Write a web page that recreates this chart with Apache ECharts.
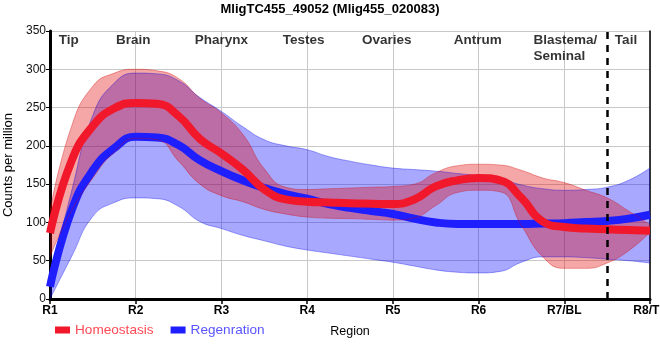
<!DOCTYPE html>
<html>
<head>
<meta charset="utf-8">
<script src="https://cdn.jsdelivr.net/npm/echarts@6/dist/echarts.min.js"></script>
<style>html,body{margin:0;padding:0;background:#fff}#c{width:660px;height:360px}</style>
</head>
<body>
<div id="c"></div>
<script>
// ---- data ----
const xPos = [1,1.25,1.5,1.75,2,2.25,2.5,2.75,3,3.25,3.5,3.75,4,4.25,4.5,4.75,5,5.25,5.5,5.75,6,6.25,6.5,6.75,7,7.25,7.5,7.75,8];
const tickLabels = ['R1','R2','R3','R4','R5','R6','R7/BL','R8/TL'];
const homeoMean  = [86,180,226,249,256,255,239,209,190,169,143,130,127,126,125,124.5,124,130,147,155,158,155,132,101,94,92,91,90,89];
const homeoLow   = [55,115,158,192,210,208,180,150,135,127,117,111,107,105.5,105,104,103,106,122,139,142,140,96,55,40,40,47,63,87];
const homeoHigh  = [115,225,278,295,300,298,288,262,243,215,170,146,143,144,145,146,147,150,165,174,176,175,168,158,152,142,132,115,97];
const regenMean  = [16,115,168,197,212,211,201,181,167,155,145,137,131,124,119,115,111,105,100,98,98,98,98,98.5,99,100.5,102,105,110];
const regenLow   = [0,55,108,126,132,131,121,101,92,83,76,69,64,60,56,52,48,43,38,35,34,36,48,55,55,54,52,50,47];
const regenHigh  = [25,140,240,282,295,294,285,263,245,225,208,200,195,186,180,175,171,169,167,164,161,157,149,144,142,143,146,155,171];
const regionNames = ['Tip','Brain','Pharynx','Testes','Ovaries','Antrum','Blastema/\nSeminal','Tail'];
const regionX     = [1.22,1.97,3.0,3.96,4.93,5.99,6.64,7.72];
const dashedX = [7.5];
const seriesNames = ['Homeostasis','Regenration'];

const FONT = 'Liberation Sans, Arial, sans-serif';
const cats = xPos.map(String);
const diffs = (lo, hi) => hi.map((h,i)=> h - lo[i]);
const isTick = (i) => (xPos[i] % 1) === 0;

function band(stackId, lo, hi, fill, edge) {
  return [
    { type:'line', stack:stackId, data:lo.slice(), smooth:true, symbol:'none', silent:true,
      lineStyle:{ width:1, color:edge } },
    { type:'line', stack:stackId, data:diffs(lo,hi), smooth:true, symbol:'none', silent:true,
      lineStyle:{ width:1, color:edge }, areaStyle:{ color:fill, opacity:1 } }
  ];
}

const regionData = regionNames.map((n,i)=>{
  const item = { name:n, value:[regionX[i], 350] };
  if (n.indexOf('\n') >= 0) item.label = { align:'left' };
  return item;
});

const chart = echarts.init(document.getElementById('c'), null, {renderer:'canvas'});
chart.setOption({
  animation:false,
  backgroundColor:'#fff',
  title:{ text:'MligTC455_49052 (Mlig455_020083)', left:'center', top:3, padding:0,
    textStyle:{ fontFamily:FONT, fontSize:13, fontWeight:'bold', color:'#000' } },
  grid:{ left:50, right:10, top:31, bottom:61, containLabel:false, outerBoundsMode:'none' },
  legend:{
    left:55, top:323, padding:0, itemWidth:15, itemHeight:7, itemGap:17, icon:'rect',
    data:[
      { name:seriesNames[0], textStyle:{ color:'#ff4a55' } },
      { name:seriesNames[1], textStyle:{ color:'#5a55ff' } }
    ],
    textStyle:{ fontFamily:FONT, fontSize:13.6 }
  },
  xAxis:[{
    type:'category', data:cats, boundaryGap:false,
    name:'Region', nameLocation:'middle', nameGap:26,
    nameTextStyle:{ fontFamily:FONT, fontSize:12.5, color:'#000' },
    axisLine:{ show:true, onZero:false, lineStyle:{ color:'#000', width:3 } },
    axisTick:{ show:true, length:5, interval:(i)=>isTick(i), lineStyle:{ color:'#000', width:1.5 } },
    axisLabel:{ fontFamily:FONT, fontSize:12, fontWeight:'bold', color:'#000', margin:6,
      interval:(i)=>isTick(i), formatter:(v)=> tickLabels[Math.round(Number(v))-1] || '' },
    splitLine:{ show:true, interval:(i)=>isTick(i), lineStyle:{ color:'#c8c8c8', width:1 } }
  },{
    type:'value', min:1, max:8, position:'top',
    axisLine:{ show:true, lineStyle:{ color:'#000', width:1 } },
    axisTick:{ show:false }, axisLabel:{ show:false }, splitLine:{ show:false }
  }],
  yAxis:[{
    type:'value', min:0, max:350, interval:50,
    name:'Counts per million', nameLocation:'middle', nameGap:35,
    nameTextStyle:{ fontFamily:FONT, fontSize:13, color:'#000' },
    axisLine:{ show:true, onZero:false, lineStyle:{ color:'#000', width:3 } },
    axisTick:{ show:true, length:4, lineStyle:{ color:'#000', width:1 } },
    axisLabel:{ fontFamily:FONT, fontSize:12, color:'#111', margin:4 },
    splitLine:{ show:true, lineStyle:{ color:'#c8c8c8', width:1 } }
  },{
    type:'value', min:0, max:350, position:'right',
    axisLine:{ show:true, lineStyle:{ color:'#000', width:1.5 } },
    axisTick:{ show:false }, axisLabel:{ show:false }, splitLine:{ show:false }
  }],
  series:[
    ...band('regen', regenLow, regenHigh, 'rgba(0,0,255,0.34)', 'rgba(0,0,230,0.35)'),
    { name:seriesNames[1], type:'line', data:regenMean.slice(), smooth:true, symbol:'none',
      color:'#1e1eff', lineStyle:{ width:8, color:'#1e1eff' } },
    ...band('homeo', homeoLow, homeoHigh, 'rgba(225,0,0,0.35)', 'rgba(210,0,0,0.35)'),
    { name:seriesNames[0], type:'line', data:homeoMean.slice(), smooth:true, symbol:'none',
      color:'#f0182a', lineStyle:{ width:8, color:'#f0182a' } },
    { type:'scatter', xAxisIndex:1, data:regionData, symbolSize:0, silent:true, clip:false, z:10,
      label:{ show:true, position:'bottom', distance:1, formatter:(p)=>p.name,
        fontFamily:FONT, fontSize:13.5, fontWeight:'bold', color:'#000', lineHeight:16 },
      markLine:{ silent:true, symbol:['none','none'], label:{ show:false },
        lineStyle:{ color:'#000', width:2.5, type:[7,6] },
        data: dashedX.map(x=>({ xAxis:x })) } }
  ]
});
</script>
</body>
</html>
